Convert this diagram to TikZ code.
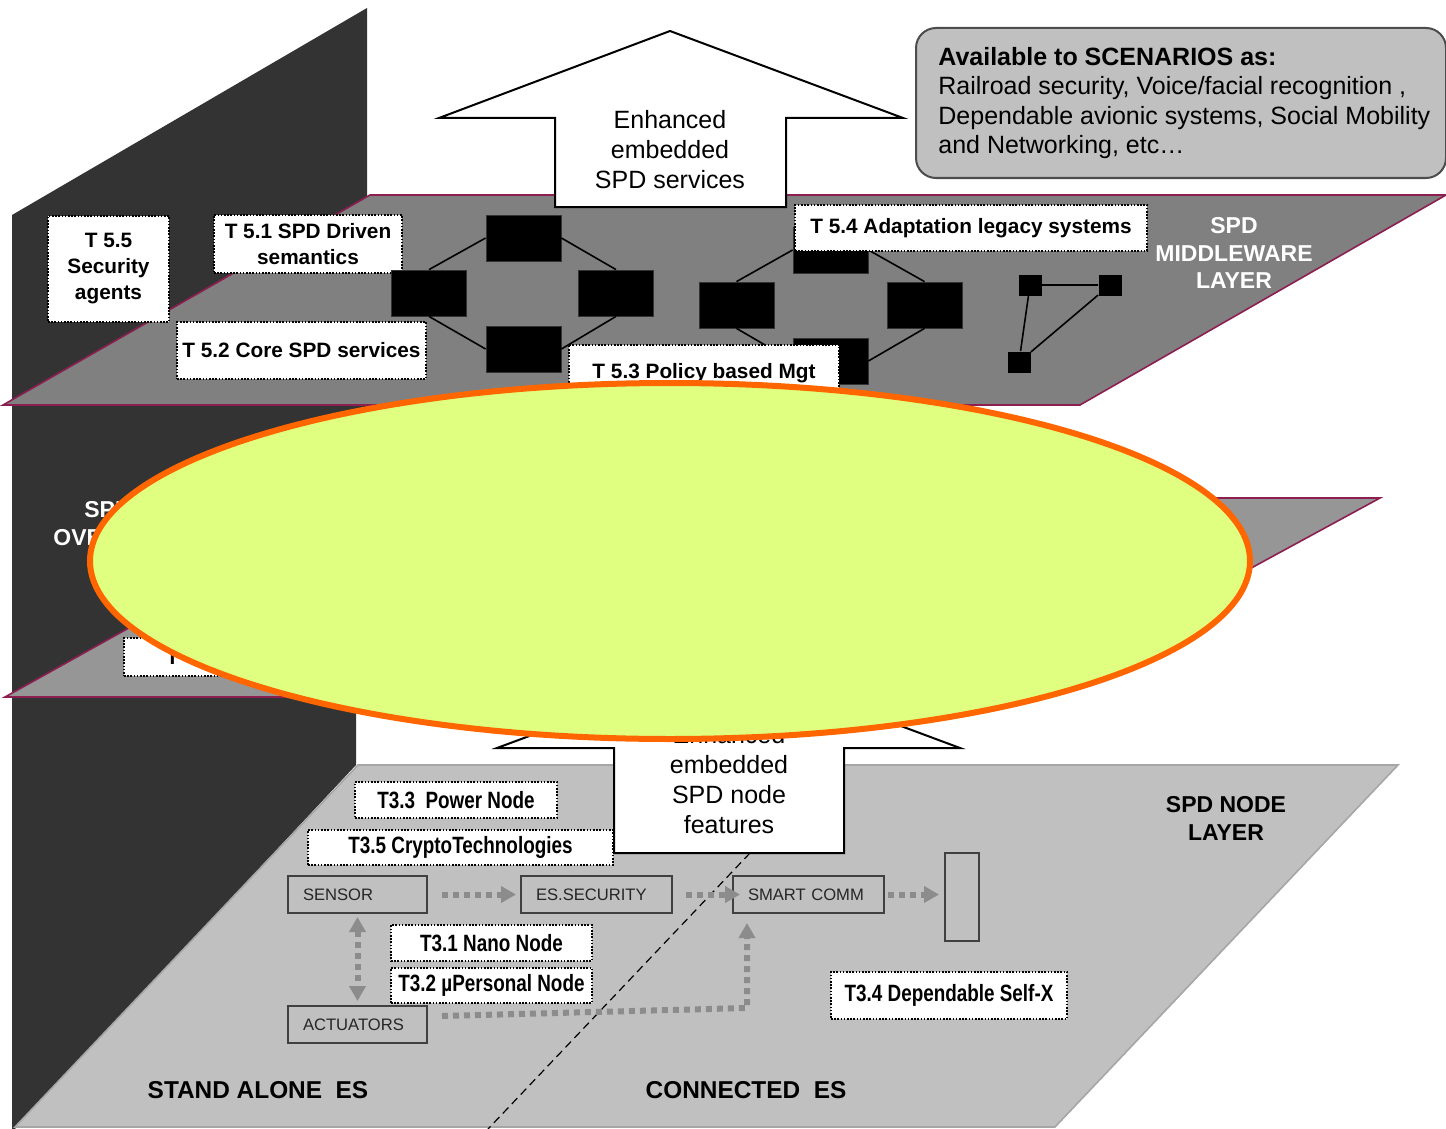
\documentclass[tikz,border=0pt]{standalone}
\usepackage{fontspec}
\setmainfont{Liberation Sans}
\newfontfamily\narrowfont[FakeStretch=0.8]{Liberation Sans}
\usetikzlibrary{arrows.meta}
\definecolor{wallgray}{HTML}{333333}
\definecolor{midgray}{HTML}{808080}
\definecolor{ovlgray}{HTML}{969696}
\definecolor{nodegray}{HTML}{C0C0C0}
\definecolor{planeedge}{HTML}{8C1E50}
\definecolor{blobfill}{HTML}{E0FF80}
\definecolor{bloborange}{HTML}{FF6600}
\definecolor{flowgray}{HTML}{8C8C8C}
\tikzset{
  flowtip/.tip={Triangle[width=8pt,length=7.5pt]},
  tbox/.style={draw=black, dash pattern=on 0.8pt off 0.8pt, line width=1pt, fill=white, align=center,
    inner sep=0pt, font=\fontsize{10.4}{13}\selectfont\bfseries},
  nbox/.style={draw=black, dash pattern=on 0.8pt off 0.8pt, line width=1pt, fill=white, align=center,
    inner sep=0pt, font=\fontsize{11.8}{14}\selectfont\narrowfont\bfseries},
  esbox/.style={draw=black!75, line width=1pt, inner xsep=7.5pt, inner ysep=0pt, minimum height=18.5pt,
    align=left, text=black!85, font=\fontsize{8.3}{10}\selectfont},
  blk/.style={fill=black, draw=black!80, minimum width=37.5pt, minimum height=23pt, inner sep=0pt},
  sq/.style={fill=black, minimum width=11.5pt, minimum height=10.5pt, inner sep=0pt},
  flow/.style={draw=flowgray, line width=3pt, dash pattern=on 3pt off 2.5pt, -flowtip},
  layer/.style={font=\fontsize{11.5}{13.75}\selectfont\bfseries, align=center},
  bigarrow/.style={draw=black, line width=1pt, fill=white},
  plane/.style={draw=planeedge, line width=0.8pt}
}
\begin{document}
\begin{tikzpicture}[x=0.5pt,y=-0.5pt]
\useasboundingbox (0,0) rectangle (1446,1129);
\fill[wallgray] (12,215) -- (367,8) -- (367,500) -- (356,700) -- (356,765) -- (15,1129) -- (12,1129) -- cycle;
\filldraw[fill=nodegray, draw=black!35, line width=0.8pt] (15,1127) -- (358,765) -- (1398,765) -- (1055,1127) -- cycle;
\filldraw[plane, fill=ovlgray] (5,697) -- (362,498) -- (1380,498) -- (1014,697) -- cycle;
\filldraw[plane, fill=midgray] (3,405) -- (370,195) -- (1446,195) -- (1080,405) -- cycle;

\filldraw[bigarrow] (670,31) -- (903,118) -- (786,118) -- (786,207) -- (555,207) -- (555,118) -- (439,118) -- cycle;
\node (enh) [font=\fontsize{12.5}{15}\selectfont, align=center] at (670,150) {Enhanced\\embedded\\SPD services};

\node (scen) [draw=black!70, line width=1pt, fill=nodegray, rounded corners=10pt, anchor=north west,
  minimum width=265pt, minimum height=75pt] at (915,27) {};
\node (scentext) [anchor=west, align=left, inner sep=0pt, font=\fontsize{12.5}{14.75}\selectfont]
  at ([xshift=11.5pt]scen.west)
  {\textbf{Available to SCENARIOS as:}\\Railroad security, Voice/facial recognition ,\\Dependable avionic systems, Social Mobility\\and Networking, etc\dots};

\node (t55) [tbox, minimum width=60.5pt, minimum height=53pt] at (108.5,269) {T 5.5\\Security\\agents};
\node (t51) [tbox, minimum width=94pt, minimum height=29pt] at (308,244) {T 5.1 SPD Driven\\semantics};
\node (t52) [tbox, minimum width=124.5pt, minimum height=28.5pt] at (301.5,350.5) {T 5.2 Core SPD services};

\node (la) [blk] at (523.5,238) {};
\node (lb) [blk] at (429,293) {};
\node (lc) [blk] at (616,293) {};
\node (ld) [blk] at (523.5,349) {};
\draw[line width=0.8pt] (lb.north) -- (la.west) (la.east) -- (lc.north) (lb.south) -- (ld.west) (ld.east) -- (lc.south);

\node (ra) [blk] at (830.5,250) {};
\node (rb) [blk] at (736.5,305) {};
\node (rc) [blk] at (924.5,305) {};
\node (rd) [blk] at (830.5,361) {};
\draw[line width=0.8pt] (rb.north) -- (ra.west) (ra.east) -- (rc.north) (rb.south) -- (rd.west) (rd.east) -- (rc.south);

\node (sa) [sq] at (1030,285) {};
\node (sb) [sq] at (1110,285) {};
\node (sc) [sq] at (1019,362) {};
\draw[line width=0.8pt] (sa) -- (sb) -- (sc) -- (sa);

\node (t54) [tbox, minimum width=176pt, minimum height=23pt] at (971,228) {T 5.4 Adaptation legacy systems};
\node (t53) [tbox, minimum width=135pt, minimum height=28.5pt] at (704,373) {T 5.3 Policy based Mgt};
\node (mwl) [layer, text=white] at (1234,253) {SPD\\MIDDLEWARE\\LAYER};

\node (ovl) [layer, text=white] at (108,523.5) {SPD\\OVERLAY};
\node (t4) [tbox, anchor=north west, minimum height=19pt, text width=100pt, inner xsep=21pt, align=left] at (123,637) {T};

\coordinate (dtop) at (750,853);
\coordinate (dbot) at (488,1129);
\draw[line width=0.6pt, dash pattern=on 4pt off 2.5pt] (dtop) -- (dbot);

\filldraw[bigarrow] (729,662) -- (960,748) -- (844,748) -- (844,853) -- (614,853) -- (614,748) -- (497,748) -- cycle;
\node (enh2) [font=\fontsize{12.5}{15}\selectfont, align=center] at (729,780) {Enhanced\\embedded\\SPD node\\features};

\node (t33) [nbox, minimum width=101pt, minimum height=18pt] at (456,800) {T3.3~~Power Node};
\node (t35) [nbox, minimum width=152.5pt, minimum height=17.5pt] at (460.5,847.5) {T3.5 CryptoTechnologies};
\node (t31) [nbox, minimum width=100.5pt, minimum height=18pt] at (491.5,943) {T3.1 Nano Node};
\node (t32) [nbox, minimum width=100.5pt, minimum height=17.5pt] at (491.5,985.5) {T3.2 µPersonal Node};
\node (t34) [nbox, minimum width=118pt, minimum height=23.5pt] at (949,995.5) {T3.4 Dependable Self-X};

\node (sensor) [esbox, text width=54.5pt] at (357.5,894.5) {SENSOR};
\node (essec) [esbox, text width=60.5pt] at (596.5,894.5) {ES.SECURITY};
\node (smart) [esbox, text width=60.5pt] at (808.5,894.5) {SMART COMM};
\node (act) [esbox, text width=54.5pt] at (357.5,1024.5) {ACTUATORS};
\node (outbox) [draw=black!75, line width=1pt, minimum width=17pt, minimum height=44pt, inner sep=0pt] at (962,897) {};

\draw[flow, shorten <=7pt, shorten >=2pt] (sensor) -- (essec);
\draw[flow, shorten <=6.5pt, shorten >=-4pt] (essec) -- (smart);
\draw[flow, shorten <=1.5pt, shorten >=2.5pt] (smart.east) -- (smart.east -| outbox.west);
\draw[flow, flowtip-flowtip, shorten <=1.5pt, shorten >=2pt] (sensor) -- (act);
\coordinate (bend) at (747,1008);
\draw[flow, shorten >=4.5pt] ([xshift=7pt,yshift=4.25pt]act.east) -- (bend) -- (bend |- smart.south);

\node (alone) [font=\fontsize{12.2}{14}\selectfont\bfseries] at (258,1090) {STAND ALONE~~ES};
\node (conn) [font=\fontsize{12.2}{14}\selectfont\bfseries] at (746,1090) {CONNECTED~~ES};
\node (nodel) [layer, font=\fontsize{11.5}{14}\selectfont\bfseries] at (1226,818) {SPD NODE\\LAYER};

\draw[draw=bloborange, fill=blobfill, line width=3pt] (670,561) ellipse [x radius=580, y radius=178];
\end{tikzpicture}
\end{document}
